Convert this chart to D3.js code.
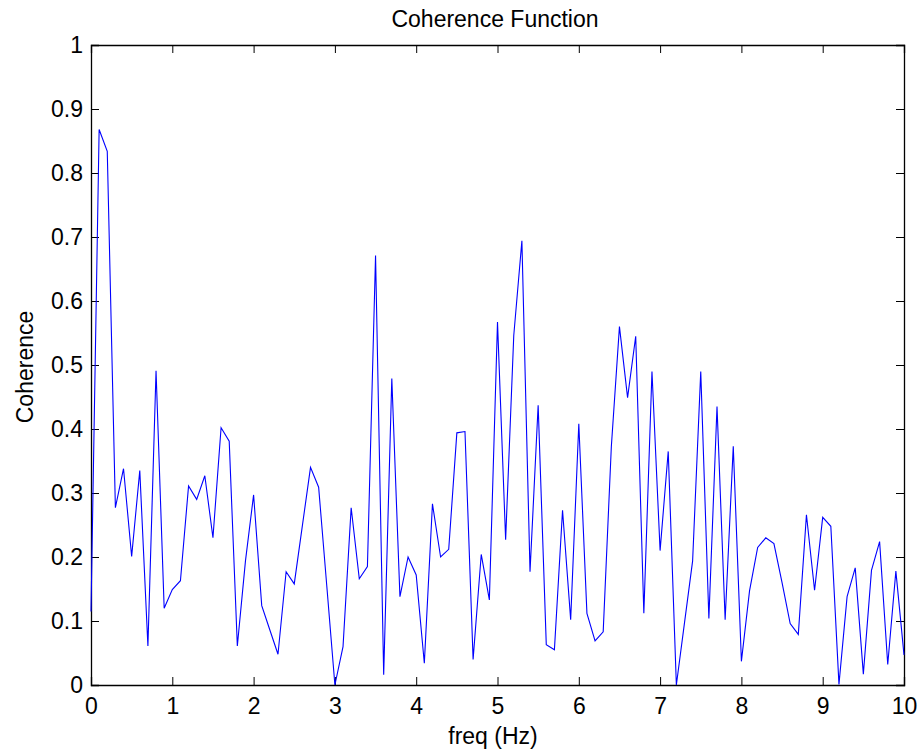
<!DOCTYPE html>
<html>
<head>
<meta charset="utf-8">
<script src="https://cdn.jsdelivr.net/npm/d3@7"></script>
<style>
  html, body { margin: 0; padding: 0; background: #fff; }
  svg { display: block; }
  text { font-family: "Liberation Sans", Arial, Helvetica, sans-serif; fill: #000; }
</style>
</head>
<body>
<svg id="chart" width="919" height="755"></svg>
<script>
// ---- data ----
const title = "Coherence Function";
const xLabel = "freq (Hz)";
const yLabel = "Coherence";
const freqStep = 0.1;
const coherence = [
  0.115, 0.868, 0.834, 0.277, 0.338, 0.201, 0.335, 0.061, 0.491, 0.120,
  0.149, 0.163, 0.311, 0.290, 0.327, 0.230, 0.402, 0.381, 0.061, 0.194,
  0.297, 0.124, 0.086, 0.048, 0.177, 0.158, 0.249, 0.340, 0.309, 0.155,
  0.000, 0.060, 0.277, 0.166, 0.185, 0.671, 0.016, 0.479, 0.138, 0.200,
  0.172, 0.034, 0.283, 0.200, 0.212, 0.394, 0.396, 0.040, 0.204, 0.133,
  0.567, 0.227, 0.546, 0.694, 0.177, 0.437, 0.063, 0.055, 0.273, 0.102,
  0.408, 0.112, 0.069, 0.083, 0.372, 0.560, 0.449, 0.545, 0.112, 0.490,
  0.210, 0.365, 0.000, 0.097, 0.194, 0.490, 0.104, 0.435, 0.102, 0.373,
  0.037, 0.147, 0.215, 0.230, 0.221, 0.160, 0.096, 0.079, 0.266, 0.148,
  0.262, 0.248, 0.001, 0.138, 0.183, 0.017, 0.179, 0.224, 0.032, 0.178,
  0.047
];
const freqs = coherence.map((_, i) => +(i * freqStep).toFixed(2));
const xTicks = [0, 1, 2, 3, 4, 5, 6, 7, 8, 9, 10];
const yTicks = [0, 0.1, 0.2, 0.3, 0.4, 0.5, 0.6, 0.7, 0.8, 0.9, 1];

// ---- layout ----
const mLeft = 91, mRight = 904, mTop = 45, mBottom = 685;
const tickLen = 8;
const tickFont = 23;
const labelFont = 23;

const svg = d3.select("#chart");
const x = d3.scaleLinear().domain([0, 10]).range([mLeft, mRight]);
const y = d3.scaleLinear().domain([0, 1]).range([mBottom, mTop]);

const fmtX = d3.format("d");
const fmtY = v => (v === 0 || v === 1) ? String(v) : String(+v.toFixed(1));

// axes: bottom, top, left, right — ticks inward
const axB = svg.append("g").attr("transform", `translate(0,${mBottom})`)
  .call(d3.axisBottom(x).tickValues(xTicks).tickSize(-tickLen).tickPadding(13).tickFormat(fmtX));
const axT = svg.append("g").attr("transform", `translate(0,${mTop})`)
  .call(d3.axisTop(x).tickValues(xTicks).tickSize(-tickLen).tickFormat(""));
const axL = svg.append("g").attr("transform", `translate(${mLeft},0)`)
  .call(d3.axisLeft(y).tickValues(yTicks).tickSize(-tickLen).tickPadding(8).tickFormat(fmtY));
const axR = svg.append("g").attr("transform", `translate(${mRight},0)`)
  .call(d3.axisRight(y).tickValues(yTicks).tickSize(-tickLen).tickFormat(""));

[axB, axT, axL, axR].forEach(g => {
  g.select(".domain").attr("stroke", "#000").attr("stroke-width", 1.3);
  g.selectAll(".tick line").attr("stroke", "#000").attr("stroke-width", 1);
  g.selectAll(".tick text").attr("font-size", tickFont)
    .attr("font-family", '"Liberation Sans", Arial, Helvetica, sans-serif').attr("fill", "#000");
});

// data line
const line = d3.line().x((d, i) => x(freqs[i])).y(d => y(d));
svg.append("path")
  .datum(coherence)
  .attr("fill", "none")
  .attr("stroke", "#0000ff")
  .attr("stroke-width", 1.1)
  .attr("stroke-linejoin", "miter")
  .attr("d", line);

// labels
svg.append("text")
  .attr("x", 495).attr("y", 27)
  .attr("text-anchor", "middle").attr("font-size", labelFont)
  .text(title);
svg.append("text")
  .attr("x", 493).attr("y", 744)
  .attr("text-anchor", "middle").attr("font-size", labelFont)
  .text(xLabel);
svg.append("text")
  .attr("transform", `translate(33,367) rotate(-90)`)
  .attr("text-anchor", "middle").attr("font-size", labelFont)
  .text(yLabel);
</script>
</body>
</html>
